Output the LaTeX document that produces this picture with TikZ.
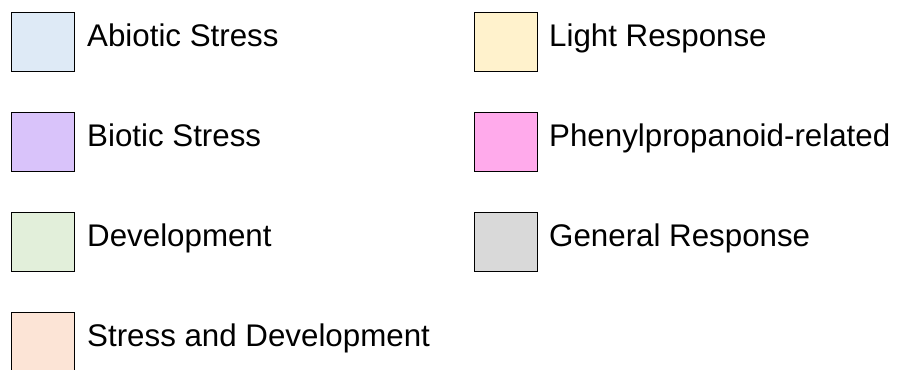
\documentclass[tikz,border=0pt]{standalone}
\usepackage{fontspec}
\setmainfont{Liberation Sans}
\usepackage{tikz}

\definecolor{abiotic}{HTML}{DEEAF6}
\definecolor{biotic}{HTML}{D9C3FA}
\definecolor{devel}{HTML}{E2EFDA}
\definecolor{stressdev}{HTML}{FCE4D6}
\definecolor{lightresp}{HTML}{FFF2CC}
\definecolor{phenyl}{HTML}{FFAAEB}
\definecolor{general}{HTML}{D9D9D9}

\tikzset{
  swatch/.style={draw=black, line width=1.7pt, minimum width=63pt, minimum height=59pt, inner sep=0pt},
  lbl/.style={anchor=base west, inner sep=0pt, font=\fontsize{31.3}{36}\selectfont}
}

\begin{document}
\begin{tikzpicture}[x=1pt,y=1pt]

  \useasboundingbox (0,0) rectangle (901,-369);

  % left column
  \node[swatch, fill=abiotic] (abio) at (43,-42) {};
  \node[lbl] (abiotxt) at (87,-46) {Abiotic Stress};

  \node[swatch, fill=biotic] (bio) at (43,-142) {};
  \node[lbl] (biotxt) at (87,-146) {Biotic Stress};

  \node[swatch, fill=devel] (dev) at (43,-242) {};
  \node[lbl] (devtxt) at (87,-246) {Development};

  \node[swatch, fill=stressdev] (sdev) at (43,-342) {};
  \node[lbl] (sdevtxt) at (87,-346) {Stress and Development};

  % right column
  \node[swatch, fill=lightresp] (light) at (506,-42) {};
  \node[lbl] (lighttxt) at (549,-46) {Light Response};

  \node[swatch, fill=phenyl] (phen) at (506,-142) {};
  \node[lbl] (phentxt) at (549,-146) {Phenylpropanoid-related};

  \node[swatch, fill=general] (gen) at (506,-242) {};
  \node[lbl] (gentxt) at (549,-246) {General Response};

\end{tikzpicture}
\end{document}
